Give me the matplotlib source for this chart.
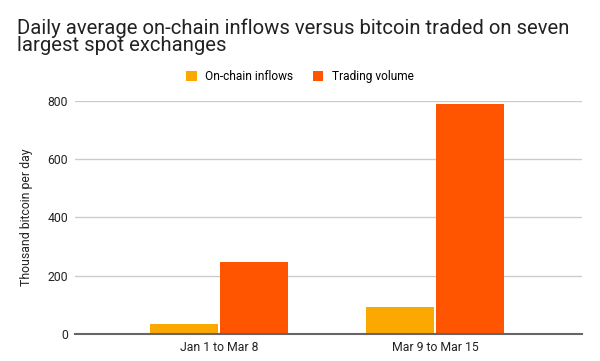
import numpy as np
import matplotlib
matplotlib.use("Agg")
import matplotlib.pyplot as plt

plt.rcParams["font.family"] = ["Roboto", "DejaVu Sans"]

# data
categories = ["Jan 1 to Mar 8", "Mar 9 to Mar 15"]
inflows = [33, 94]
volume = [248, 790]
series_names = ["On-chain inflows", "Trading volume"]
colors = ["#FBA900", "#FF5400"]

fig = plt.figure(figsize=(6, 3.61), dpi=100)
ax = fig.add_axes([75 / 600, 1 - 334 / 361, 507 / 600, 233 / 361])

x = np.arange(len(categories))
w = 0.315
ax.bar(x - w / 2 - 0.005, inflows, w, color=colors[0], label=series_names[0], zorder=3)
ax.bar(x + w / 2 + 0.005, volume, w, color=colors[1], label=series_names[1], zorder=3)

ax.set_xlim(-0.667, 1.68)
ax.set_ylim(0, 800)
ax.set_yticks([0, 200, 400, 600, 800])
ax.set_xticks(x)
ax.set_xticklabels(categories)
ax.tick_params(length=0, labelsize=8.8, colors="#222222", pad=5)
ax.grid(axis="y", color="#CCCCCC", lw=1, zorder=0)
for s in ["top", "right", "left"]:
    ax.spines[s].set_visible(False)
ax.spines["bottom"].set_color("#666666")
ax.spines["bottom"].set_linewidth(1.5)
ax.spines["bottom"].set_zorder(4)
ax.set_ylabel("Thousand bitcoin per day", fontsize=8.8, color="#222222", labelpad=10)

fig.text(17 / 600, 1 - 18 / 361, "Daily average on-chain inflows versus bitcoin traded on seven\nlargest spot exchanges",
         fontsize=14.6, va="top", ha="left", color="#222222", linespacing=0.93)

fig.legend(loc="center", bbox_to_anchor=(0.5, 1 - 76.5 / 361), ncol=2, frameon=False,
           fontsize=8.6, handlelength=0.9, handleheight=0.9, handletextpad=0.7, columnspacing=1.6)

fig.savefig("out.png", dpi=100)
